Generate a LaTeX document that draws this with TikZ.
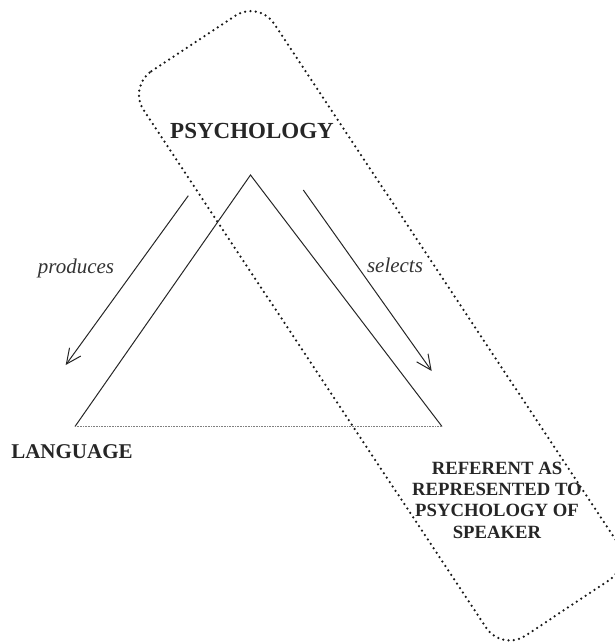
\documentclass[tikz,border=0pt]{standalone}
\usepackage{fontspec}
\setmainfont{Liberation Serif}
\usetikzlibrary{arrows.meta}
\begin{document}
\begin{tikzpicture}[x=1pt,y=-1pt,
  tri/.style={line width=1pt,black!85},
  baseline dots/.style={line width=1pt,black!50,dash pattern=on 1pt off 0.6pt},
  boundary/.style={line width=2.5pt,black!90,dash pattern=on 0pt off 5.3pt,line cap=round,rounded corners=28pt},
  flow/.style={line width=1pt,black!85,-{Straight Barb[length=15pt,width=14pt,line width=1pt]}},
  corner/.style={font=\bfseries\fontsize{23}{27}\selectfont,text=black!85,inner sep=0pt},
  verb/.style={font=\itshape\fontsize{21}{25}\selectfont,text=black!80,inner sep=0pt}]
\useasboundingbox (0,0) rectangle (615,643);
\begin{scope}
\clip (0,0) rectangle (615,643);
\coordinate (b1) at (128.1,86.7);
\coordinate (b2) at (258.6,0.3);
\coordinate (b3) at (632.3,564.9);
\coordinate (b4) at (501.8,651.3);
\draw[boundary] (b1) -- (b2) -- (b3) -- (b4) -- cycle;
\end{scope}
\coordinate (apex) at (250.5,175);
\coordinate (bl) at (75,426.5);
\coordinate (br) at (442,426.5);
\draw[tri] (bl) -- (apex) -- (br);
\draw[baseline dots] (bl) -- (br);
\coordinate (p1) at (188.3,195.7);
\coordinate (p2) at (65.7,365);
\coordinate (s1) at (303.3,190);
\coordinate (s2) at (431.7,371);
\draw[flow] (p1) -- (p2);
\draw[flow] (s1) -- (s2);
\node[corner] (psy) at (252,131) {PSYCHOLOGY};
\node[corner,font=\bfseries\fontsize{21}{25}\selectfont] (lang) at (72,451.5) {LANGUAGE};
\node[corner,font=\bfseries\fontsize{18.7}{21.3}\selectfont,align=center] (ref) at (497,500) {REFERENT AS\\REPRESENTED TO\\PSYCHOLOGY OF\\SPEAKER};
\node[verb] (prod) at (76,268) {produces};
\node[verb] (sel) at (395,265) {selects};
\end{tikzpicture}
\end{document}
